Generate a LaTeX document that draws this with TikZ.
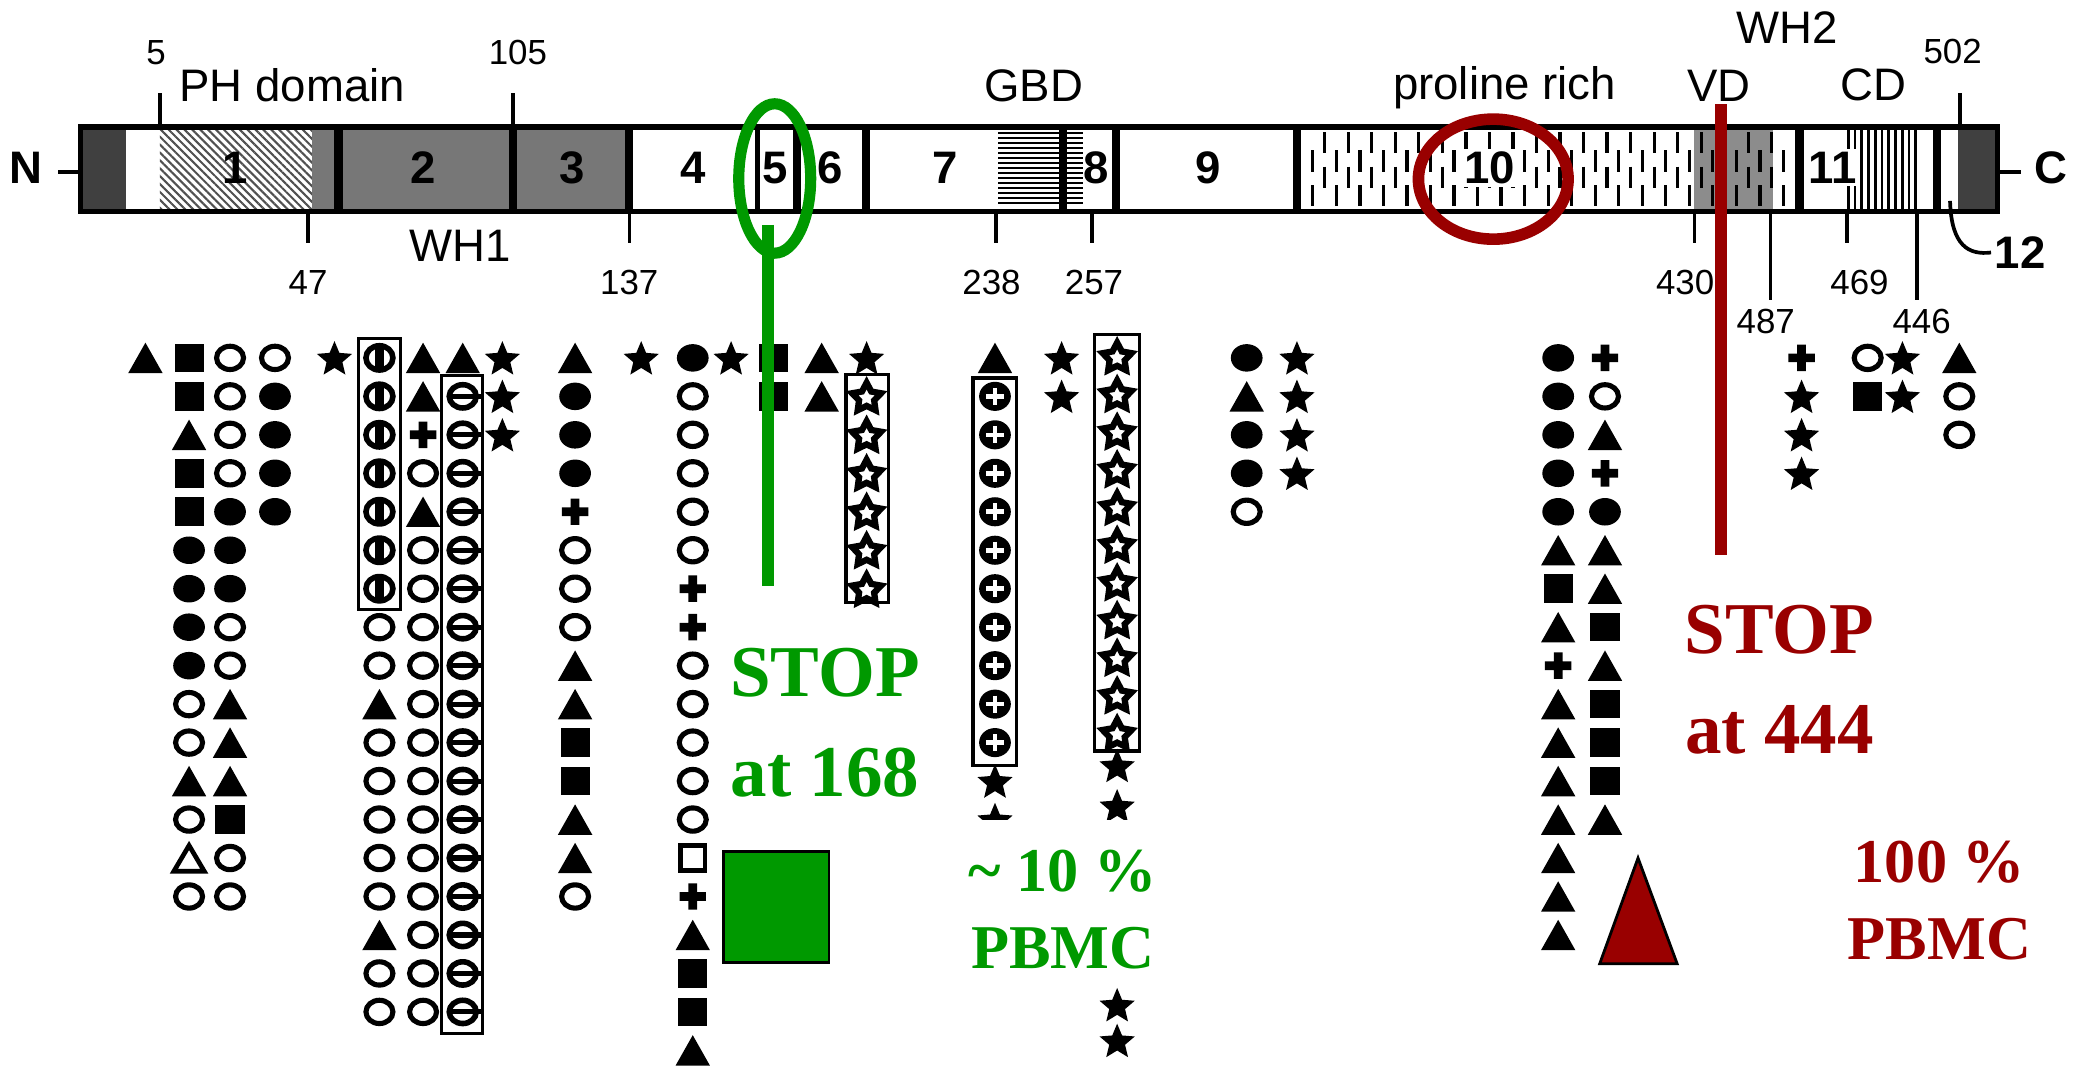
\documentclass[tikz,border=0pt]{standalone}
\usepackage{fontspec}
\setmainfont{Liberation Serif}
\setsansfont{Liberation Sans}
\usetikzlibrary{patterns.meta}
\definecolor{stopgreen}{HTML}{009900}
\definecolor{stopred}{HTML}{990000}
\definecolor{segdark}{HTML}{404040}
\definecolor{segmid}{HTML}{777777}
\definecolor{segvd}{HTML}{8C8C8C}
\definecolor{hatchc}{HTML}{505050}

% mutation symbols
\tikzset{
  pics/ftri/.style={code={\fill (-13,11.5) -- (13,11.5) -- (0,-11.5) -- cycle;}},
  pics/otri/.style={code={\draw[line width=1pt,line join=miter] (-11.5,10) -- (11.5,10) -- (0,-9.5) -- cycle;}},
  pics/fsq/.style={code={\fill (-11,-10.8) rectangle (11,10.8);}},
  pics/osq/.style={code={\draw[line width=1pt] (-9.3,-9.3) rectangle (9.3,9.3);}},
  pics/fcirc/.style={code={\fill (0,0) ellipse [x radius=12,y radius=10.4];}},
  pics/ocirc/.style={code={\draw[line width=1.1pt] (0,0) ellipse [x radius=10.2,y radius=8.8];}},
  pics/vcirc/.style={code={\draw[line width=1.2pt] (0,0) ellipse [x radius=10.2,y radius=9.2];
      \draw[line width=2pt] (0,-9.5) -- (0,9.5);}},
  pics/hcirc/.style={code={\draw[line width=1.2pt] (0,0) ellipse [x radius=10.2,y radius=8.8];
      \draw[line width=1.1pt] (-10,0) -- (14,0);}},
  pics/pcirc/.style={code={\fill (0,0) ellipse [x radius=12,y radius=11];
      \draw[white,line width=1pt] (-6.5,0) -- (6.5,0) (0,-6.5) -- (0,6.5);}},
  pics/plus/.style={code={\fill (-10,-3.3) rectangle (10,3.3) (-3.3,-10) rectangle (3.3,10);}},
  pics/fstar/.style={code={\fill[shift={(0,1.3)}] (-90:14) \foreach \a in {0,...,4}{ -- ({-54+72*\a}:6.3) -- ({-18+72*\a}:14)} -- cycle;}},
  pics/ostar/.style={code={\draw[line width=1.35pt,shift={(0,1.2)}] (-90:11.5) \foreach \a in {0,...,4}{ -- ({-54+72*\a}:6) -- ({-18+72*\a}:11.5)} -- cycle;}},
}
\newcommand\symcol[3]{\foreach \s [count=\r from #2] in {#3} {\pic at (#1,{270.7+29.1*\r}) {\s};}}

\begin{document}
\begin{tikzpicture}[x=0.01cm,y=-0.01cm,font=\sffamily,
  segnum/.style={font=\sffamily\bfseries\fontsize{9.8}{10}\selectfont,inner sep=0.6pt},
  numlbl/.style={font=\sffamily\fontsize{7.5}{8}\selectfont,anchor=base,inner sep=0pt},
  domlbl/.style={font=\sffamily\fontsize{9.8}{10}\selectfont,anchor=base,inner sep=0pt},
  tickln/.style={line width=0.75pt},
  sepline/.style={line width=1.8pt},
  colbox/.style={line width=0.7pt},
  stoptxt/.style={font=\rmfamily\bfseries\fontsize{15.7}{21.5}\selectfont,align=center,inner sep=0pt},
  pbmctxt/.style={font=\rmfamily\bfseries\fontsize{13.4}{16.5}\selectfont,align=center,inner sep=0pt}]
  \useasboundingbox (0,0) rectangle (1568,806);

  % protein bar
  \fill[segdark] (61,96) rectangle (95,160);
  \fill[pattern={Lines[angle=-45,distance=1.2pt,line width=0.45pt]},pattern color=hatchc] (121,96) rectangle (236,160);
  \fill[segmid] (236,96) rectangle (476,160);
  \fill[segvd] (1281,96) rectangle (1341,160);
  \fill[segdark] (1481,96) rectangle (1511,160);
  \foreach \y in {100.5,104.3,...,157} \draw[line width=0.5pt] (755,\y) -- (819,\y);
  \foreach \x in {993,1010.8,...,1356} \draw[line width=0.7pt] (\x,113.5) -- (\x,130) (\x,140) -- (\x,156);
  \foreach \x in {1002,1019.8,...,1356} \draw[line width=0.7pt] (\x,100) -- (\x,116) (\x,126) -- (\x,142);
  \foreach \x in {1398,1403.1,...,1452} \draw[line width=0.6pt] (\x,96) -- (\x,160);
  \foreach \x in {256,388,476,603,655,804,844,981,1361,1465} \draw[sepline] (\x,96) -- (\x,160);
  \draw[line width=1.1pt] (573,96) -- (573,160);
  \draw[line width=1.2pt] (61,96) rectangle (1511,160);

  \foreach \n/\x in {1/178,2/320,3/433,4/524,5/586,6/628,7/715,8/829,9/914}
    \node[segnum] (s\n) at (\x,127) {\n};
  \node[segnum,fill=white] (s10) at (1127,127) {10};
  \node[segnum,fill=white] (s11) at (1386,127) {11};

  \node[segnum] (lblN) at (20,127) {N};
  \draw[line width=1pt] (44,130) -- (61,130);
  \node[segnum] (lblC) at (1551,127) {C};
  \draw[line width=1pt] (1511,130) -- (1529,130);
  \node[segnum] (lbl12) at (1528,191) {12};
  \coordinate (seg12) at (1475,152);
  \draw[line width=0.8pt] (seg12) .. controls (1476,186) and (1489,193) .. (lbl12.west);

  % residue ticks
  \foreach \x in {121,388,1482.6} \draw[tickln] (\x,70.6) -- (\x,96);
  \foreach \x in {233,476,753.5,826,1281.6,1397} \draw[tickln] (\x,160) -- (\x,184);
  \foreach \x in {1339,1450} \draw[tickln] (\x,160) -- (\x,227);
  \foreach \t/\x/\y in {5/118/49,105/391.7/49,502/1477/48,47/233/223,137/476/223,238/750/223,
      257/827.5/223,430/1274.6/223,469/1406.5/223,487/1335.6/252,446/1453.5/252}
    \node[numlbl] (n\t) at (\x,\y) {\t};

  \node[domlbl] (ph) at (221,77) {PH domain};
  \node[domlbl] (wh1) at (348,198) {WH1};
  \node[domlbl] (gbd) at (782,77) {GBD};
  \node[domlbl] (pro) at (1138,75.6) {proline rich};
  \node[domlbl] (vd) at (1300,77) {VD};
  \node[domlbl] (wh2) at (1352,33) {WH2};
  \node[domlbl] (cd) at (1417,76) {CD};

  % mutations, one column per position
  \symcol{110}{0}{ftri}
  \symcol{143}{0}{fsq,fsq,ftri,fsq,fsq,fcirc,fcirc,fcirc,fcirc,ocirc,ocirc,ftri,ocirc,otri,ocirc}
  \symcol{174}{0}{ocirc,ocirc,ocirc,ocirc,fcirc,fcirc,fcirc,ocirc,ocirc,ftri,ftri,ftri,fsq,ocirc,ocirc}
  \symcol{208}{0}{ocirc,fcirc,fcirc,fcirc,fcirc}
  \symcol{253}{0}{fstar}
  \symcol{287}{0}{vcirc,vcirc,vcirc,vcirc,vcirc,vcirc,vcirc,ocirc,ocirc,ftri,ocirc,ocirc,ocirc,ocirc,ocirc,ftri,ocirc,ocirc}
  \symcol{320}{0}{ftri,ftri,plus,ocirc,ftri,ocirc,ocirc,ocirc,ocirc,ocirc,ocirc,ocirc,ocirc,ocirc,ocirc,ocirc,ocirc,ocirc}
  \symcol{350}{0}{ftri,hcirc,hcirc,hcirc,hcirc,hcirc,hcirc,hcirc,hcirc,hcirc,hcirc,hcirc,hcirc,hcirc,hcirc,hcirc,hcirc,hcirc}
  \symcol{380}{0}{fstar,fstar,fstar}
  \symcol{435}{0}{ftri,fcirc,fcirc,fcirc,plus,ocirc,ocirc,ocirc,ftri,ftri,fsq,fsq,ftri,ftri,ocirc}
  \symcol{485}{0}{fstar}
  \symcol{524}{0}{fcirc,ocirc,ocirc,ocirc,ocirc,ocirc,plus,plus,ocirc,ocirc,ocirc,ocirc,ocirc,osq,plus,ftri,fsq,fsq,ftri}
  \symcol{553}{0}{fstar}
  \symcol{585}{0}{fsq,fsq}
  \symcol{621.5}{0}{ftri,ftri}
  \symcol{655.5}{0}{fstar,ostar,ostar,ostar,ostar,ostar,ostar}
  \symcol{752.6}{0}{ftri,pcirc,pcirc,pcirc,pcirc,pcirc,pcirc,pcirc,pcirc,pcirc,pcirc,fstar}
  \symcol{803}{0}{fstar,fstar}
  \foreach \r in {0,...,10} \pic at (845,{269.5+28.5*\r}) {ostar};
  \foreach \y in {579,760,787} \pic at (845,\y) {fstar};
  \begin{scope}
    \clip (700,560) rectangle (900,620);
    \pic at (752.6,619.9) {fstar};
    \pic at (845,609.5) {fstar};
  \end{scope}
  \symcol{943}{0}{fcirc,ftri,fcirc,fcirc,ocirc}
  \symcol{981}{0}{fstar,fstar,fstar,fstar}
  \symcol{1178.6}{0}{fcirc,fcirc,fcirc,fcirc,fcirc,ftri,fsq,ftri,plus,ftri,ftri,ftri,ftri,ftri,ftri,ftri}
  \symcol{1214}{0}{plus,ocirc,ftri,plus,fcirc,ftri,ftri,fsq,ftri,fsq,fsq,fsq,ftri}
  \symcol{1362.7}{0}{plus,fstar,fstar,fstar}
  \symcol{1412.7}{0}{ocirc,fsq}
  \symcol{1439}{0}{fstar,fstar}
  \symcol{1482}{0}{ftri,ocirc,ocirc}

  \draw[colbox] (271,256) rectangle (303,461);
  \draw[colbox] (334,284) rectangle (365,782);
  \draw[colbox] (640,283) rectangle (672,456);
  \draw[colbox] (736,286) rectangle (769,579);
  \draw[colbox] (828,253) rectangle (862,568);

  % stop codons
  \draw[stopgreen,line width=2.4pt] (586,135) ellipse [x radius=27.2,y radius=56.5];
  \draw[stopgreen,line width=2.5pt] (581,170) -- (581,443);
  \draw[stopred,line width=2.5pt] (1129.5,135.5) ellipse [x radius=56.6,y radius=45.4];
  \draw[stopred,line width=2.5pt] (1301.6,79) -- (1301.6,420);

  \node[stoptxt,text=stopgreen] (stopg) at (624,547) {STOP\\at 168};
  \node[stoptxt,text=stopred] (stopr) at (1346,514) {STOP\\at 444};
  \node[pbmctxt,text=stopgreen] (pbmcg) at (804,688) {\textasciitilde\ 10 \%\\PBMC};
  \node[pbmctxt,text=stopred] (pbmcr) at (1467,681) {100 \%\\PBMC};
  \draw[fill=stopgreen,line width=0.6pt] (547,644) rectangle (627,728);
  \draw[fill=stopred,line width=0.6pt] (1210,729) -- (1268.6,729) -- (1239,649) -- cycle;
\end{tikzpicture}
\end{document}
